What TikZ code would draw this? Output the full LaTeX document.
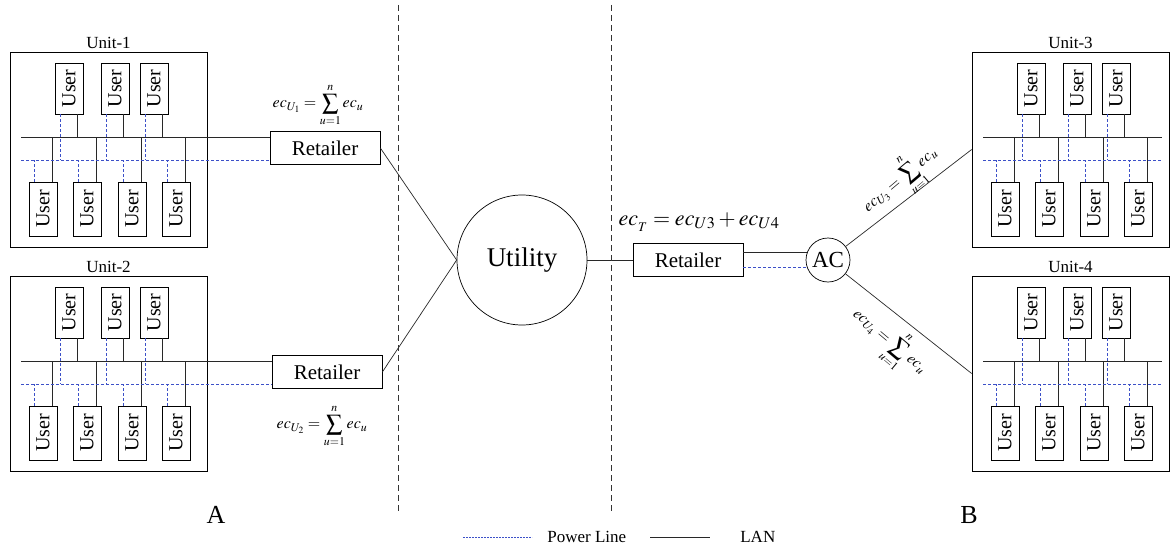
\documentclass[tikz,border=0pt]{standalone}
\usepackage{mathptmx}
\usepackage{fontspec}
\setmainfont{Liberation Serif}
\usepackage{tikz}
\usetikzlibrary{positioning,calc}
\definecolor{lanc}{RGB}{40,40,40}
\definecolor{powc}{RGB}{60,80,200}

\begin{document}
\begin{tikzpicture}[
  x=1pt,y=-1pt,
  line width=0.7pt,
  unitbox/.style={draw=black,minimum width=197,minimum height=195,inner sep=0},
  unitlbl/.style={font=\fontsize{17}{18}\selectfont,inner sep=1pt},
  userbox/.style={draw=black,minimum width=28,inner sep=0,
                  font=\fontsize{20}{21}\selectfont},
  retail/.style={draw=black,minimum width=110,minimum height=33,inner sep=0,
                 font=\fontsize{21}{22}\selectfont},
  utilnode/.style={draw=black,circle,minimum size=130,inner sep=0,
                   font=\fontsize{27}{30}\selectfont},
  acnode/.style={draw=black,circle,minimum size=44,inner sep=0,
                 font=\fontsize{23}{24}\selectfont},
  eqn/.style={font=\fontsize{16}{18}\selectfont,inner sep=0},
  lan/.style={lanc,line width=0.7pt},
  pline/.style={powc,line width=0.7pt,dash pattern=on 3pt off 2pt},
  sepline/.style={black!80,line width=0.8pt,dash pattern=on 6pt off 4pt},
]
  \useasboundingbox (0,0) rectangle (1170,551);

  % units with their users
  \foreach \u/\X/\Y in {1/10/52,2/10/276,3/972/52,4/972/276}{
    \node[unitbox] (u\u) at (\X+98.5,\Y+97.5) {};
    \node[unitlbl,above=2pt of u\u] {Unit-\u};
    \coordinate (lan\u) at (\X+11,\Y+85);
    \coordinate (pw\u) at (\X+11,\Y+108);
    \foreach \i/\dx in {1/59,2/105,3/144}{
      \node[userbox,minimum height=51] (t\u\i) at (\X+\dx,\Y+36.5)
        {\rotatebox{90}{User}};
      \coordinate (tp\u\i) at ([xshift=-8.5]t\u\i.south);
      \coordinate (tl\u\i) at ([xshift=8.5]t\u\i.south);
      \draw[pline] (tp\u\i) -- (tp\u\i |- pw\u);
      \draw[lan] (tl\u\i) -- (tl\u\i |- lan\u);
    }
    \foreach \i/\dx in {1/33,2/77,3/122,4/166}{
      \node[userbox,minimum height=54] (b\u\i) at (\X+\dx,\Y+157)
        {\rotatebox{90}{User}};
      \coordinate (bp\u\i) at ([xshift=-9]b\u\i.north);
      \coordinate (bl\u\i) at ([xshift=9]b\u\i.north);
      \draw[pline] (bp\u\i) -- (bp\u\i |- pw\u);
      \draw[lan] (bl\u\i) -- (bl\u\i |- lan\u);
    }
  }

  \node[retail] (ret1) at (325,148) {Retailer};
  \node[retail] (ret2) at (327,372) {Retailer};
  \node[utilnode] (util) at (522,260) {Utility};
  \node[retail] (ret3) at (688,260) {Retailer};
  \node[acnode] (ac) at (828,260) {AC};

  % buses
  \draw[lan] (lan1) -- (lan1 -| ret1.west);
  \draw[pline] (pw1) -- (pw1 -| ret1.west);
  \draw[lan] (lan2) -- (lan2 -| ret2.west);
  \draw[pline] (pw2) -- (pw2 -| ret2.west);
  \draw[lan] (lan3) -- ++(179,0);
  \draw[pline] (pw3) -- ++(179,0);
  \draw[lan] (lan4) -- ++(179,0);
  \draw[pline] (pw4) -- ++(179,0);

  % links
  \draw[lan] (ret1.east) -- (util.west);
  \draw[lan] (ret2.east) -- (util.west);
  \draw[lan] (util.east) -- (ret3.west);
  \draw[lan] (ac.160 -| ret3.east) -- (ac.160);
  \draw[pline] (ac.200 -| ret3.east) -- (ac.200);
  \draw[lan] (ac) -- (u3.west);
  \draw[lan] (ac) -- (u4.west);

  % equations
  \node[eqn] (eq1) at (318,105) {$\displaystyle ec_{U_1}=\sum_{u=1}^{n}ec_u$};
  \node[eqn] (eq2) at (322,426) {$\displaystyle ec_{U_2}=\sum_{u=1}^{n}ec_u$};
  \node[eqn,font=\fontsize{22}{24}\selectfont] (eqt) at (699,222)
    {$ec_{_T}=ec_{U3}+ec_{U4}$};
  \node[eqn,rotate=40] (eq3) at (901,181)
    {$\displaystyle ec_{U_3}=\sum_{u=1}^{n}ec_u$};
  \node[eqn,rotate=-40] (eq4) at (889,342)
    {$\displaystyle ec_{U_4}=\sum_{u=1}^{n}ec_u$};

  % separators and legend
  \coordinate (sa1) at (398,5);  \coordinate (sa2) at (398,513);
  \coordinate (sb1) at (611,5);  \coordinate (sb2) at (611,513);
  \draw[sepline] (sa1) -- (sa2);
  \draw[sepline] (sb1) -- (sb2);

  \node[font=\fontsize{26}{28}\selectfont] (la) at (216,515) {A};
  \node[font=\fontsize{26}{28}\selectfont] (lb) at (969,515) {B};

  \coordinate (lg1) at (463,537);
  \coordinate (lg2) at (650,537);
  \node[anchor=west,font=\fontsize{17}{18}\selectfont,inner sep=0] (lgp)
    at (547,537) {Power Line};
  \node[anchor=west,font=\fontsize{17}{18}\selectfont,inner sep=0] (lgl)
    at (740,537) {LAN};
  \draw[powc,line width=0.7pt,dash pattern=on 2pt off 1pt] (lg1) -- ++(69,0);
  \draw[lan] (lg2) -- ++(60,0);
\end{tikzpicture}
\end{document}
